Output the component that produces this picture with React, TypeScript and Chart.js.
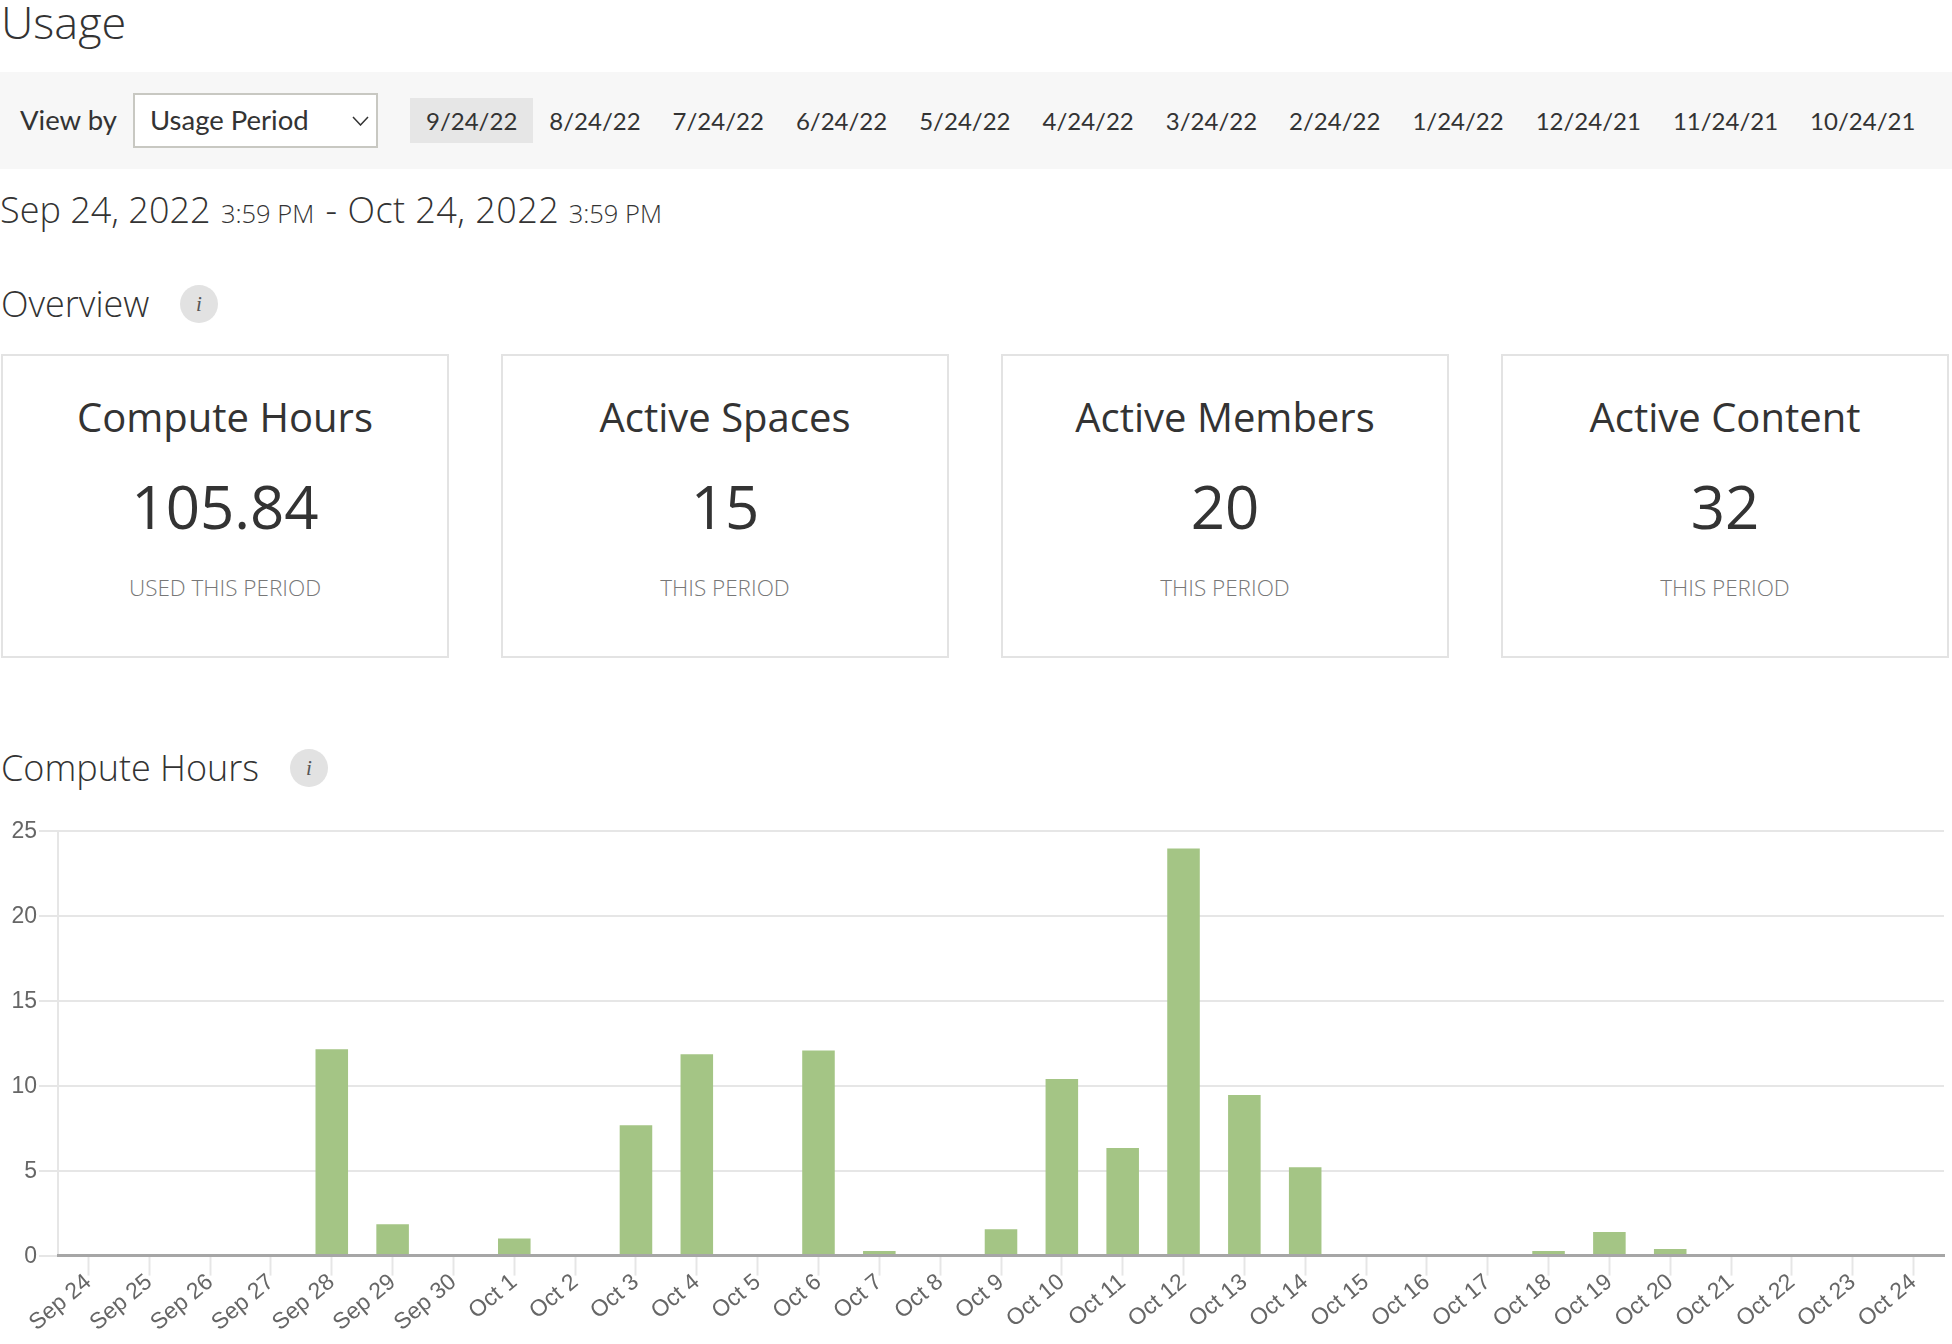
import React, { useEffect, useRef } from "react";
import { Chart, registerables } from "chart.js";

Chart.register(...registerables);

const days = [
  "Sep 24","Sep 25","Sep 26","Sep 27","Sep 28","Sep 29","Sep 30","Oct 1","Oct 2","Oct 3","Oct 4",
  "Oct 5","Oct 6","Oct 7","Oct 8","Oct 9","Oct 10","Oct 11","Oct 12","Oct 13","Oct 14","Oct 15",
  "Oct 16","Oct 17","Oct 18","Oct 19","Oct 20","Oct 21","Oct 22","Oct 23","Oct 24",
];
const computeHours = [
  0,0,0,0,12.14,1.84,0,1.0,0,7.67,11.84,0,12.06,0.27,0,1.55,10.39,6.33,23.94,9.45,5.2,0,0,0,0.27,1.39,0.39,0,0,0,0,
];
const periods = ["9/24/22","8/24/22","7/24/22","6/24/22","5/24/22","4/24/22","3/24/22","2/24/22","1/24/22","12/24/21","11/24/21","10/24/21"];
const cardTitles = ["Compute Hours","Active Spaces","Active Members","Active Content"];
const cardValues = ["105.84","15","20","32"];
const cardNotes = ["USED THIS PERIOD","THIS PERIOD","THIS PERIOD","THIS PERIOD"];

const OS = "'Open Sans', sans-serif";
const LA = "Lato, sans-serif";

function T(p: { x: number; y: number; size: number; font?: string; weight?: number; color?: string; children: any; w?: number; center?: boolean }) {
  const h = Math.round(p.size * 1.4);
  return (
    <div style={{
      position: "absolute", left: p.x, top: p.y - h / 2, height: h, lineHeight: h + "px",
      width: p.w, textAlign: p.center ? "center" : "left", whiteSpace: "nowrap",
      fontFamily: p.font || OS, fontWeight: p.weight || 400, fontSize: p.size, color: p.color || "#333",
    }}>{p.children}</div>
  );
}

function Info({ cx, cy }: { cx: number; cy: number }) {
  return (
    <div style={{
      position: "absolute", left: cx - 19, top: cy - 19, width: 38, height: 38, borderRadius: "50%",
      background: "#e2e2e2", textAlign: "center", lineHeight: "38px", color: "#555",
      fontFamily: "'Liberation Serif', serif", fontStyle: "italic", fontSize: 21,
    }}>i</div>
  );
}

export default function App() {
  const ref = useRef<HTMLCanvasElement>(null);
  useEffect(() => {
    const chart = new Chart(ref.current!, {
      type: "bar",
      data: {
        labels: days,
        datasets: [{ data: computeHours, backgroundColor: "#a4c585", barPercentage: 0.535, categoryPercentage: 1 }],
      },
      options: {
        animation: false,
        responsive: false,
        devicePixelRatio: 1,
        layout: { padding: { top: 20.5, right: 8, left: 0, bottom: 0 } },
        plugins: { legend: { display: false }, tooltip: { enabled: false } },
        scales: {
          x: {
            afterFit: (s: any) => { s.height = 88.4; },
            grid: { offset: false, drawOnChartArea: false, drawTicks: true, tickLength: 20, tickColor: "#e6e6e6", tickWidth: 2 },
            border: { display: true, color: "#a6a6a6", width: 3, z: 1 },
            ticks: {
              autoSkip: false, minRotation: 40, maxRotation: 40, padding: -7, color: "#666",
              font: { family: "'Liberation Sans'", size: 23 },
            },
          },
          y: {
            min: 0, max: 25,
            afterFit: (s: any) => { s.width = 58; },
            grid: { color: "#e6e6e6", lineWidth: 2, tickLength: 19 },
            border: { display: true, color: "#e6e6e6", width: 2 },
            ticks: {
              stepSize: 5, padding: 2, color: "#666", labelOffset: 1.5,
              font: { family: "'Liberation Sans'", size: 23 },
            },
          },
        },
      },
    } as any);
    return () => chart.destroy();
  }, []);

  return (
    <div style={{ position: "absolute", left: 0, top: 0, width: 1952, height: 1344, background: "#fff", overflow: "hidden" }}>
      <T x={1} y={21} size={45} weight={300}>Usage</T>

      <div style={{ position: "absolute", left: 0, top: 72, width: 1952, height: 97, background: "#f7f7f7" }} />
      <T x={20} y={119} size={27.5} font={LA}>View by</T>
      <div style={{ position: "absolute", left: 133, top: 93, width: 245, height: 55, boxSizing: "border-box", border: "2px solid #c8c8c2", background: "#fff" }} />
      <T x={150} y={119} size={27.5} font={LA}>Usage Period</T>
      <svg style={{ position: "absolute", left: 352, top: 116 }} width="17" height="10" viewBox="0 0 17 10">
        <path d="M1 1 L8.5 9 L16 1" fill="none" stroke="#333" strokeWidth="1.5" />
      </svg>
      <div style={{ position: "absolute", left: 410, top: 98, height: 45, display: "flex" }}>
        {periods.map((p, i) => (
          <div key={p} style={{
            padding: "0 16px", lineHeight: "45px", fontFamily: LA, fontSize: 24, color: "#333",
            background: i === 0 ? "#e6e6e6" : "transparent", whiteSpace: "nowrap",
          }}>{p}</div>
        ))}
      </div>

      <div style={{ position: "absolute", left: 0, top: 185, height: 50, lineHeight: "50px", whiteSpace: "nowrap", fontFamily: OS, fontWeight: 300, color: "#333", fontSize: 36 }}>
        Sep 24, 2022 <span style={{ fontSize: 25.5, marginLeft: 1 }}>3:59 PM</span>
        <span style={{ marginLeft: 2 }}> - </span>
        <span style={{ letterSpacing: 0.45, marginLeft: 1 }}>Oct 24, 2022</span> <span style={{ fontSize: 25.5 }}>3:59 PM</span>
      </div>

      <T x={1} y={304} size={36} weight={300}>Overview</T>
      <Info cx={199} cy={304} />

      {cardTitles.map((t, i) => (
        <div key={t} style={{ position: "absolute", left: 1 + i * 500, top: 354, width: 448, height: 304, boxSizing: "border-box", border: "2px solid #e3e3e3" }}>
          <T x={0} y={60.5} size={40} w={444} center>{t}</T>
          <T x={0} y={150} size={60} w={444} center>{cardValues[i]}</T>
          <T x={0} y={231} size={22.5} w={444} center color="#777" weight={300}>{cardNotes[i]}</T>
        </div>
      ))}

      <T x={1} y={768} size={36} weight={300}>Compute Hours</T>
      <Info cx={309} cy={768} />

      <canvas ref={ref} width={1952} height={534} style={{ position: "absolute", left: 0, top: 810, width: 1952, height: 534 }} />
    </div>
  );
}
